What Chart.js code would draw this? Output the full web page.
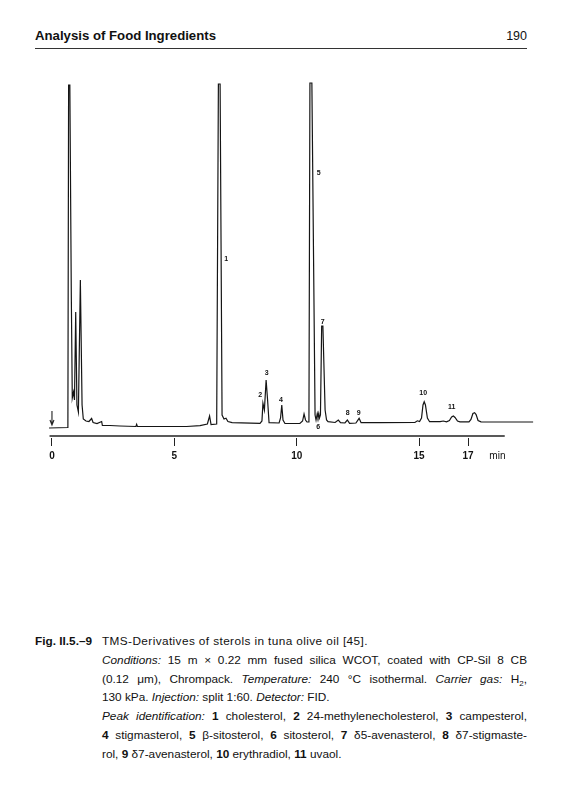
<!DOCTYPE html>
<html>
<head>
<meta charset="utf-8">
<script src="https://cdn.jsdelivr.net/npm/chart.js@4.4.1/dist/chart.umd.min.js"></script>
<style>
  html, body { margin: 0; padding: 0; background: #fff; }
  body { width: 562px; height: 800px; position: relative; overflow: hidden;
         font-family: "Liberation Sans", Arial, sans-serif; color: #111; }
  .head { position: absolute; left: 35px; top: 29px; font-weight: bold; font-size: 13.2px; line-height: 14px; }
  .pageno { position: absolute; right: 35px; top: 29px; font-size: 12.5px; line-height: 14px; }
  .rule { position: absolute; left: 35px; top: 48px; width: 492px; height: 1px; background: #333; }
  #wrap { position: absolute; left: 0; top: 70px; width: 562px; height: 412px; }
  .cap { position: absolute; left: 0; top: 632px; width: 562px; font-size: 11.8px; line-height: 18.8px; }
  .fig { position: absolute; left: 35px; top: 0; font-weight: bold; }
  .txt { position: absolute; left: 102px; top: 0; width: 425px; }
  .txt div { text-align: left; white-space: nowrap; }
  .txt div.j { text-align: justify; text-align-last: justify; }
  .txt div.w { letter-spacing: 0.4px; }
  sub { font-size: 8px; line-height: 0; }
</style>
</head>
<body>
<div class="head">Analysis of Food Ingredients</div>
<div class="pageno">190</div>
<div class="rule"></div>

<div id="wrap"><canvas id="chrom" width="562" height="412"></canvas></div>

<div class="cap">
  <div class="fig">Fig. II.5.–9</div>
  <div class="txt">
    <div class="w">TMS-Derivatives of sterols in tuna olive oil [45].</div>
    <div class="j"><i>Conditions:</i> 15 m × 0.22 mm fused silica WCOT, coated with CP-Sil 8 CB</div>
    <div class="j">(0.12 μm), Chrompack. <i>Temperature:</i> 240 °C isothermal. <i>Carrier gas:</i> H<sub>2</sub>,</div>
    <div>130 kPa. <i>Injection:</i> split 1:60. <i>Detector:</i> FID.</div>
    <div class="j"><i>Peak identification:</i> <b>1</b> cholesterol, <b>2</b> 24-methylenecholesterol, <b>3</b> campesterol,</div>
    <div class="j"><b>4</b> stigmasterol, <b>5</b> β-sitosterol, <b>6</b> sitosterol, <b>7</b> δ5-avenasterol, <b>8</b> δ7-stigmaste-</div>
    <div>rol, <b>9</b> δ7-avenasterol, <b>10</b> erythradiol, <b>11</b> uvaol.</div>
  </div>
</div>

<script>
// retention time (min) and detector signal
const times = [
  -0.12, 0.65, 0.68, 0.73, 0.79, 0.83, 0.88, 0.92, 0.97, 1.02,
  1.08, 1.16, 1.23, 1.28, 1.39, 1.51, 1.62, 1.68, 1.84, 2.03,
  2.06, 2.37, 2.78, 3.43, 3.46, 3.49, 4.41, 5.50, 6.05, 6.35,
  6.44, 6.50, 6.73, 6.80, 6.87, 6.95, 7.03, 7.11, 7.19, 7.36,
  8.50, 8.58, 8.62, 8.68, 8.75, 8.81, 8.87, 9.28, 9.34, 9.39,
  9.44, 9.52, 10.13, 10.24, 10.30, 10.36, 10.42, 10.50, 10.54, 10.62,
  10.75, 10.79, 10.84, 10.87, 10.90, 10.93, 10.97, 11.02, 11.07, 11.16,
  11.22, 11.28, 11.57, 11.70, 11.79, 11.97, 12.07, 12.16, 12.42, 12.55,
  12.63, 13.40, 14.83, 14.93, 15.02, 15.10, 15.16, 15.21, 15.26, 15.34,
  15.43, 15.86, 15.99, 16.12, 16.24, 16.33, 16.40, 16.47, 16.57, 16.67,
  17.04, 17.12, 17.20, 17.27, 17.33, 17.41, 17.53, 18.31, 19.66
];
const signal = [
  8, 8.5, 351, 351, 141, 38, 44, 36, 124, 31,
  24, 156, 31, 17, 15, 14.5, 17.5, 13.5, 12.5, 14.5,
  10.5, 10.5, 10, 9.5, 11.7, 9.5, 9.5, 9.5, 10.3, 12,
  20, 11.5, 12, 352, 352, 21, 17, 17.7, 14.5, 13.3,
  12.7, 15, 32.7, 26, 56, 36, 13.3, 13, 18, 31,
  16, 12.5, 12.5, 15, 22, 16, 14, 14, 353, 353,
  21, 16, 22.5, 19, 22.5, 18, 21, 110, 110, 26,
  16, 14.3, 13.5, 16, 13.3, 13, 16, 12.7, 13, 17.7,
  13.3, 13.3, 13.5, 15.2, 14.5, 18, 31, 34.3, 31, 18,
  14.3, 14.3, 15, 14.2, 15.5, 19, 20, 18.5, 15, 14.2,
  14.2, 16.5, 22.5, 23.3, 21.5, 15.5, 14.2, 14, 14
];

// time axis
const tickValues = [0, 5, 10, 15, 17];
const tickLabels = ['0', '5', '10', '15', '17'];
const unitTick = 18.2;
const unitLabel = 'min';
const axisFrom = -0.1, axisTo = 18.5;
const injectionTime = 0;

// peak numbers and where they sit (time, signal)
const peakNames = ['1', '2', '3', '4', '5', '6', '7', '8', '9', '10', '11'];
const peakLabelTimes = [7.12, 8.51, 8.77, 9.36, 10.90, 10.88, 11.06, 12.08, 12.53, 15.17, 16.33];
const peakLabelLevels = [177, 41, 63, 36, 263, 9, 114, 23, 23, 43, 29];

const FONT = '"Liberation Sans", Arial, sans-serif';

const marks = {
  id: 'marks',
  afterDraw(chart) {
    const { ctx, scales: { x, y } } = chart;
    ctx.save();
    // axis line
    ctx.strokeStyle = '#222';
    ctx.lineWidth = 1.3;
    ctx.beginPath();
    ctx.moveTo(x.getPixelForValue(axisFrom), y.getPixelForValue(0));
    ctx.lineTo(x.getPixelForValue(axisTo), y.getPixelForValue(0));
    ctx.stroke();

    // injection arrow
    const ax = x.getPixelForValue(injectionTime);
    const a0 = y.getPixelForValue(25), a1 = y.getPixelForValue(11);
    ctx.lineWidth = 1.1;
    ctx.beginPath();
    ctx.moveTo(ax, a0); ctx.lineTo(ax, a1);
    ctx.moveTo(ax - 2, a1 - 5); ctx.lineTo(ax, a1); ctx.lineTo(ax + 2, a1 - 5);
    ctx.stroke();

    // peak numbers
    ctx.fillStyle = '#111';
    ctx.font = 'bold 7px ' + FONT;
    ctx.textAlign = 'center';
    ctx.textBaseline = 'middle';
    peakNames.forEach((n, i) => {
      ctx.fillText(n, x.getPixelForValue(peakLabelTimes[i]), y.getPixelForValue(peakLabelLevels[i]));
    });
    ctx.restore();
  }
};

new Chart(document.getElementById('chrom').getContext('2d'), {
  type: 'line',
  data: {
    datasets: [{
      data: times.map((t, i) => ({ x: t, y: signal[i] })),
      borderColor: '#151515',
      borderWidth: 1.2,
      pointRadius: 0,
      tension: 0,
      fill: false
    }]
  },
  options: {
    responsive: false,
    animation: false,
    devicePixelRatio: 1,
    layout: { padding: { left: 48.3, right: 27.9, top: 10, bottom: 0 } },
    plugins: { legend: { display: false }, tooltip: { enabled: false } },
    scales: {
      x: {
        type: 'linear',
        min: -0.15,
        max: 19.7,
        border: { display: false },
        grid: {
          drawOnChartArea: false,
          tickLength: 8,
          tickWidth: 1,
          tickColor: c => (c.tick && c.tick.value === unitTick) ? 'rgba(0,0,0,0)' : '#222'
        },
        ticks: {
          autoSkip: false,
          maxRotation: 0,
          padding: 4,
          color: '#111',
          font: c => ({ family: FONT, size: 10, weight: (c.tick && c.tick.value === unitTick) ? 'normal' : 'bold' }),
          callback: v => v === unitTick ? unitLabel : tickLabels[tickValues.indexOf(v)]
        },
        afterBuildTicks: s => { s.ticks = tickValues.concat([unitTick]).map(v => ({ value: v })); },
        afterFit: s => { s.height = 44; }
      },
      y: { display: false, min: -2, max: 356 }
    }
  },
  plugins: [marks]
});
</script>
</body>
</html>
